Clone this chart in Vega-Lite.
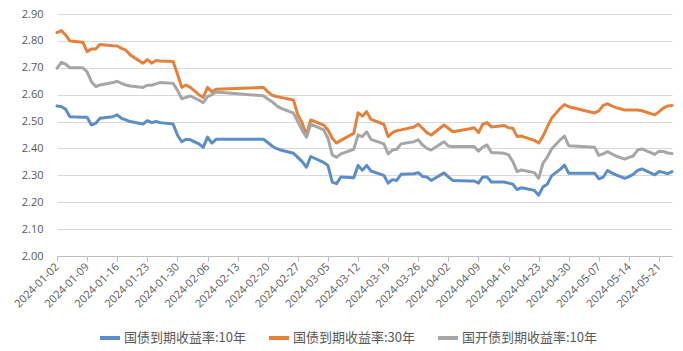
{
  "$schema": "https://vega.github.io/schema/vega-lite/v6.json",
  "autosize": "none",
  "width": 615,
  "height": 242,
  "padding": {"left": 57, "top": 14, "right": 11, "bottom": 95},
  "background": "white",
  "config": {"view": {"stroke": null}, "font": "Noto Sans CJK SC"},
  "data": {"values": [
    {"d":"2024-01-02","国债到期收益率:10年":2.558,"国债到期收益率:30年":2.831,"国开债到期收益率:10年":2.698},
    {"d":"2024-01-03","国债到期收益率:10年":2.556,"国债到期收益率:30年":2.838,"国开债到期收益率:10年":2.720},
    {"d":"2024-01-04","国债到期收益率:10年":2.546,"国债到期收益率:30年":2.822,"国开债到期收益率:10年":2.714},
    {"d":"2024-01-05","国债到期收益率:10年":2.518,"国债到期收益率:30年":2.800,"国开债到期收益率:10年":2.700},
    {"d":"2024-01-08","国债到期收益率:10年":2.516,"国债到期收益率:30年":2.795,"国开债到期收益率:10年":2.700},
    {"d":"2024-01-09","国债到期收益率:10年":2.516,"国债到期收益率:30年":2.760,"国开债到期收益率:10年":2.685},
    {"d":"2024-01-10","国债到期收益率:10年":2.487,"国债到期收益率:30年":2.770,"国开债到期收益率:10年":2.648},
    {"d":"2024-01-11","国债到期收益率:10年":2.494,"国债到期收益率:30年":2.770,"国开债到期收益率:10年":2.630},
    {"d":"2024-01-12","国债到期收益率:10年":2.512,"国债到期收益率:30年":2.787,"国开债到期收益率:10年":2.636},
    {"d":"2024-01-15","国债到期收益率:10年":2.518,"国债到期收益率:30年":2.782,"国开债到期收益率:10年":2.645},
    {"d":"2024-01-16","国债到期收益率:10年":2.525,"国债到期收益率:30年":2.781,"国开债到期收益率:10年":2.650},
    {"d":"2024-01-17","国债到期收益率:10年":2.512,"国债到期收益率:30年":2.772,"国开债到期收益率:10年":2.642},
    {"d":"2024-01-18","国债到期收益率:10年":2.506,"国债到期收益率:30年":2.766,"国开债到期收益率:10年":2.636},
    {"d":"2024-01-19","国债到期收益率:10年":2.500,"国债到期收益率:30年":2.748,"国开债到期收益率:10年":2.632},
    {"d":"2024-01-22","国债到期收益率:10年":2.491,"国债到期收益率:30年":2.717,"国开债到期收益率:10年":2.627},
    {"d":"2024-01-23","国债到期收益率:10年":2.503,"国债到期收益率:30年":2.730,"国开债到期收益率:10年":2.635},
    {"d":"2024-01-24","国债到期收益率:10年":2.496,"国债到期收益率:30年":2.717,"国开债到期收益率:10年":2.635},
    {"d":"2024-01-25","国债到期收益率:10年":2.500,"国债到期收益率:30年":2.727,"国开债到期收益率:10年":2.640},
    {"d":"2024-01-26","国债到期收益率:10年":2.496,"国债到期收益率:30年":2.725,"国开债到期收益率:10年":2.645},
    {"d":"2024-01-29","国债到期收益率:10年":2.491,"国债到期收益率:30年":2.723,"国开债到期收益率:10年":2.642},
    {"d":"2024-01-30","国债到期收益率:10年":2.450,"国债到期收益率:30年":2.677,"国开债到期收益率:10年":2.617},
    {"d":"2024-01-31","国债到期收益率:10年":2.425,"国债到期收益率:30年":2.627,"国开债到期收益率:10年":2.585},
    {"d":"2024-02-01","国债到期收益率:10年":2.434,"国债到期收益率:30年":2.636,"国开债到期收益率:10年":2.590},
    {"d":"2024-02-02","国债到期收益率:10年":2.432,"国债到期收益率:30年":2.627,"国开债到期收益率:10年":2.595},
    {"d":"2024-02-04","国债到期收益率:10年":2.417,"国债到期收益率:30年":2.600,"国开债到期收益率:10年":2.580},
    {"d":"2024-02-05","国债到期收益率:10年":2.404,"国债到期收益率:30年":2.590,"国开债到期收益率:10年":2.570},
    {"d":"2024-02-06","国债到期收益率:10年":2.442,"国债到期收益率:30年":2.627,"国开债到期收益率:10年":2.593},
    {"d":"2024-02-07","国债到期收益率:10年":2.420,"国债到期收益率:30年":2.611,"国开债到期收益率:10年":2.600},
    {"d":"2024-02-08","国债到期收益率:10年":2.434,"国债到期收益率:30年":2.620,"国开债到期收益率:10年":2.610},
    {"d":"2024-02-19","国债到期收益率:10年":2.434,"国债到期收益率:30年":2.627,"国开债到期收益率:10年":2.596},
    {"d":"2024-02-20","国债到期收益率:10年":2.422,"国债到期收益率:30年":2.611,"国开债到期收益率:10年":2.584},
    {"d":"2024-02-21","国债到期收益率:10年":2.409,"国债到期收益率:30年":2.598,"国开债到期收益率:10年":2.574},
    {"d":"2024-02-22","国债到期收益率:10年":2.400,"国债到期收益率:30年":2.593,"国开债到期收益率:10年":2.560},
    {"d":"2024-02-23","国债到期收益率:10年":2.394,"国债到期收益率:30年":2.590,"国开债到期收益率:10年":2.550},
    {"d":"2024-02-26","国债到期收益率:10年":2.382,"国债到期收益率:30年":2.580,"国开债到期收益率:10年":2.531},
    {"d":"2024-02-27","国债到期收益率:10年":2.367,"国债到期收益率:30年":2.525,"国开债到期收益率:10年":2.500},
    {"d":"2024-02-28","国债到期收益率:10年":2.351,"国债到期收益率:30年":2.495,"国开债到期收益率:10年":2.468},
    {"d":"2024-02-29","国债到期收益率:10年":2.330,"国债到期收益率:30年":2.450,"国开债到期收益率:10年":2.442},
    {"d":"2024-03-01","国债到期收益率:10年":2.370,"国债到期收益率:30年":2.506,"国开债到期收益率:10年":2.490},
    {"d":"2024-03-04","国债到期收益率:10年":2.348,"国债到期收益率:30年":2.487,"国开债到期收益率:10年":2.469},
    {"d":"2024-03-05","国债到期收益率:10年":2.337,"国债到期收益率:30年":2.469,"国开债到期收益率:10年":2.438},
    {"d":"2024-03-06","国债到期收益率:10年":2.275,"国债到期收益率:30年":2.438,"国开债到期收益率:10年":2.376},
    {"d":"2024-03-07","国债到期收益率:10年":2.269,"国债到期收益率:30年":2.420,"国开债到期收益率:10年":2.367},
    {"d":"2024-03-08","国债到期收益率:10年":2.294,"国债到期收益率:30年":2.430,"国开债到期收益率:10年":2.380},
    {"d":"2024-03-11","国债到期收益率:10年":2.291,"国债到期收益率:30年":2.456,"国开债到期收益率:10年":2.397},
    {"d":"2024-03-12","国债到期收益率:10年":2.337,"国债到期收益率:30年":2.533,"国开债到期收益率:10年":2.450},
    {"d":"2024-03-13","国债到期收益率:10年":2.319,"国债到期收益率:30年":2.520,"国开债到期收益率:10年":2.444},
    {"d":"2024-03-14","国债到期收益率:10年":2.337,"国债到期收益率:30年":2.537,"国开债到期收益率:10年":2.462},
    {"d":"2024-03-15","国债到期收益率:10年":2.316,"国债到期收益率:30年":2.508,"国开债到期收益率:10年":2.434},
    {"d":"2024-03-18","国债到期收益率:10年":2.300,"国债到期收益率:30年":2.490,"国开债到期收益率:10年":2.417},
    {"d":"2024-03-19","国债到期收益率:10年":2.271,"国债到期收益率:30年":2.444,"国开债到期收益率:10年":2.380},
    {"d":"2024-03-20","国债到期收益率:10年":2.284,"国债到期收益率:30年":2.459,"国开债到期收益率:10年":2.394},
    {"d":"2024-03-21","国债到期收益率:10年":2.281,"国债到期收益率:30年":2.466,"国开债到期收益率:10年":2.397},
    {"d":"2024-03-22","国债到期收益率:10年":2.304,"国债到期收益率:30年":2.469,"国开债到期收益率:10年":2.417},
    {"d":"2024-03-25","国债到期收益率:10年":2.306,"国债到期收益率:30年":2.480,"国开债到期收益率:10年":2.425},
    {"d":"2024-03-26","国债到期收益率:10年":2.310,"国债到期收益率:30年":2.490,"国开债到期收益率:10年":2.432},
    {"d":"2024-03-27","国债到期收益率:10年":2.296,"国债到期收益率:30年":2.475,"国开债到期收益率:10年":2.413},
    {"d":"2024-03-28","国债到期收益率:10年":2.294,"国债到期收益率:30年":2.459,"国开债到期收益率:10年":2.400},
    {"d":"2024-03-29","国债到期收益率:10年":2.281,"国债到期收益率:30年":2.450,"国开债到期收益率:10年":2.394},
    {"d":"2024-04-01","国债到期收益率:10年":2.309,"国债到期收益率:30年":2.487,"国开债到期收益率:10年":2.425},
    {"d":"2024-04-02","国债到期收益率:10年":2.294,"国债到期收益率:30年":2.475,"国开债到期收益率:10年":2.409},
    {"d":"2024-04-03","国债到期收益率:10年":2.281,"国债到期收益率:30年":2.462,"国开债到期收益率:10年":2.407},
    {"d":"2024-04-07","国债到期收益率:10年":2.279,"国债到期收益率:30年":2.473,"国开债到期收益率:10年":2.407},
    {"d":"2024-04-08","国债到期收益率:10年":2.279,"国债到期收益率:30年":2.477,"国开债到期收益率:10年":2.407},
    {"d":"2024-04-09","国债到期收益率:10年":2.271,"国债到期收益率:30年":2.459,"国开债到期收益率:10年":2.390},
    {"d":"2024-04-10","国债到期收益率:10年":2.294,"国债到期收益率:30年":2.490,"国开债到期收益率:10年":2.405},
    {"d":"2024-04-11","国债到期收益率:10年":2.294,"国债到期收益率:30年":2.496,"国开债到期收益率:10年":2.413},
    {"d":"2024-04-12","国债到期收益率:10年":2.275,"国债到期收益率:30年":2.480,"国开债到期收益率:10年":2.385},
    {"d":"2024-04-15","国债到期收益率:10年":2.275,"国债到期收益率:30年":2.485,"国开债到期收益率:10年":2.382},
    {"d":"2024-04-16","国债到期收益率:10年":2.271,"国债到期收益率:30年":2.477,"国开债到期收益率:10年":2.376},
    {"d":"2024-04-17","国债到期收益率:10年":2.267,"国债到期收益率:30年":2.475,"国开债到期收益率:10年":2.351},
    {"d":"2024-04-18","国债到期收益率:10年":2.247,"国债到期收益率:30年":2.444,"国开债到期收益率:10年":2.314},
    {"d":"2024-04-19","国债到期收益率:10年":2.254,"国债到期收益率:30年":2.446,"国开债到期收益率:10年":2.320},
    {"d":"2024-04-22","国债到期收益率:10年":2.244,"国债到期收益率:30年":2.430,"国开债到期收益率:10年":2.310},
    {"d":"2024-04-23","国债到期收益率:10年":2.226,"国债到期收益率:30年":2.420,"国开债到期收益率:10年":2.289},
    {"d":"2024-04-24","国债到期收益率:10年":2.257,"国债到期收益率:30年":2.445,"国开债到期收益率:10年":2.345},
    {"d":"2024-04-25","国债到期收益率:10年":2.267,"国债到期收益率:30年":2.480,"国开债到期收益率:10年":2.368},
    {"d":"2024-04-26","国债到期收益率:10年":2.298,"国债到期收益率:30年":2.512,"国开债到期收益率:10年":2.398},
    {"d":"2024-04-28","国债到期收益率:10年":2.322,"国债到期收益率:30年":2.549,"国开债到期收益率:10年":2.432},
    {"d":"2024-04-29","国债到期收益率:10年":2.338,"国债到期收益率:30年":2.563,"国开债到期收益率:10年":2.446},
    {"d":"2024-04-30","国债到期收益率:10年":2.308,"国债到期收益率:30年":2.555,"国开债到期收益率:10年":2.410},
    {"d":"2024-05-06","国债到期收益率:10年":2.308,"国债到期收益率:30年":2.532,"国开债到期收益率:10年":2.404},
    {"d":"2024-05-07","国债到期收益率:10年":2.287,"国债到期收益率:30年":2.540,"国开债到期收益率:10年":2.374},
    {"d":"2024-05-08","国债到期收益率:10年":2.293,"国债到期收益率:30年":2.560,"国开债到期收益率:10年":2.380},
    {"d":"2024-05-09","国债到期收益率:10年":2.318,"国债到期收益率:30年":2.566,"国开债到期收益率:10年":2.388},
    {"d":"2024-05-10","国债到期收益率:10年":2.309,"国债到期收益率:30年":2.558,"国开债到期收益率:10年":2.380},
    {"d":"2024-05-11","国债到期收益率:10年":2.302,"国债到期收益率:30年":2.552,"国开债到期收益率:10年":2.372},
    {"d":"2024-05-13","国债到期收益率:10年":2.289,"国债到期收益率:30年":2.543,"国开债到期收益率:10年":2.360},
    {"d":"2024-05-14","国债到期收益率:10年":2.295,"国债到期收益率:30年":2.543,"国开债到期收益率:10年":2.367},
    {"d":"2024-05-15","国债到期收益率:10年":2.304,"国债到期收益率:30年":2.543,"国开债到期收益率:10年":2.372},
    {"d":"2024-05-16","国债到期收益率:10年":2.318,"国债到期收益率:30年":2.543,"国开债到期收益率:10年":2.394},
    {"d":"2024-05-17","国债到期收益率:10年":2.324,"国债到期收益率:30年":2.540,"国开债到期收益率:10年":2.398},
    {"d":"2024-05-20","国债到期收益率:10年":2.302,"国债到期收益率:30年":2.525,"国开债到期收益率:10年":2.378},
    {"d":"2024-05-21","国债到期收益率:10年":2.314,"国债到期收益率:30年":2.537,"国开债到期收益率:10年":2.390},
    {"d":"2024-05-22","国债到期收益率:10年":2.311,"国债到期收益率:30年":2.550,"国开债到期收益率:10年":2.389},
    {"d":"2024-05-23","国债到期收益率:10年":2.306,"国债到期收益率:30年":2.558,"国开债到期收益率:10年":2.383},
    {"d":"2024-05-24","国债到期收益率:10年":2.314,"国债到期收益率:30年":2.560,"国开债到期收益率:10年":2.381}
  ]},
  "transform": [
    {"fold": ["国债到期收益率:10年", "国债到期收益率:30年", "国开债到期收益率:10年"], "as": ["series", "value"]}
  ],
  "mark": {"type": "line", "strokeWidth": 3, "strokeJoin": "round", "strokeCap": "round"},
  "encoding": {
    "x": {
      "field": "d", "type": "temporal",
      "scale": {"type": "utc", "domain": [{"year": 2024, "month": 1, "date": 2, "utc": true}, {"year": 2024, "month": 5, "date": 24, "utc": true}]},
      "axis": {
        "title": null,
        "grid": false,
        "values": [
          {"year": 2024, "month": 1, "date": 2, "utc": true},
          {"year": 2024, "month": 1, "date": 9, "utc": true},
          {"year": 2024, "month": 1, "date": 16, "utc": true},
          {"year": 2024, "month": 1, "date": 23, "utc": true},
          {"year": 2024, "month": 1, "date": 30, "utc": true},
          {"year": 2024, "month": 2, "date": 6, "utc": true},
          {"year": 2024, "month": 2, "date": 13, "utc": true},
          {"year": 2024, "month": 2, "date": 20, "utc": true},
          {"year": 2024, "month": 2, "date": 27, "utc": true},
          {"year": 2024, "month": 3, "date": 5, "utc": true},
          {"year": 2024, "month": 3, "date": 12, "utc": true},
          {"year": 2024, "month": 3, "date": 19, "utc": true},
          {"year": 2024, "month": 3, "date": 26, "utc": true},
          {"year": 2024, "month": 4, "date": 2, "utc": true},
          {"year": 2024, "month": 4, "date": 9, "utc": true},
          {"year": 2024, "month": 4, "date": 16, "utc": true},
          {"year": 2024, "month": 4, "date": 23, "utc": true},
          {"year": 2024, "month": 4, "date": 30, "utc": true},
          {"year": 2024, "month": 5, "date": 7, "utc": true},
          {"year": 2024, "month": 5, "date": 14, "utc": true},
          {"year": 2024, "month": 5, "date": 21, "utc": true}
        ],
        "labelExpr": "utcFormat(datum.value, '%Y-%m-%d')",
        "labelAngle": -45,
        "labelAlign": "right",
        "labelBaseline": "middle",
        "labelFont": "Open Sans",
        "labelFontSize": 11,
        "labelColor": "#595959",
        "labelPadding": 4,
        "labelOverlap": false,
        "labelFlush": false,
        "domainColor": "#BFBFBF",
        "tickColor": "#BFBFBF",
        "tickSize": 5
      }
    },
    "y": {
      "field": "value", "type": "quantitative",
      "scale": {"domain": [2.0, 2.9], "nice": false, "zero": false},
      "axis": {
        "title": null,
        "values": [2.0, 2.1, 2.2, 2.3, 2.4, 2.5, 2.6, 2.7, 2.8, 2.9],
        "format": ".2f",
        "domain": false,
        "ticks": false,
        "gridColor": "#D9D9D9",
        "gridWidth": 1,
        "labelFont": "Open Sans",
        "labelFontSize": 11,
        "labelColor": "#595959",
        "labelPadding": 14
      }
    },
    "color": {
      "field": "series", "type": "nominal",
      "scale": {
        "domain": ["国债到期收益率:10年", "国债到期收益率:30年", "国开债到期收益率:10年"],
        "range": ["#5B8EC8", "#E4823C", "#A6A6A6"]
      },
      "legend": {
        "title": null,
        "orient": "none",
        "direction": "horizontal",
        "legendX": 41,
        "legendY": 312,
        "symbolType": "stroke",
        "symbolStrokeWidth": 4,
        "symbolSize": 400,
        "labelFont": "Noto Sans CJK SC",
        "labelFontSize": 13,
        "labelColor": "#595959",
        "labelOffset": 2,
        "columnPadding": 14
      }
    }
  }
}
